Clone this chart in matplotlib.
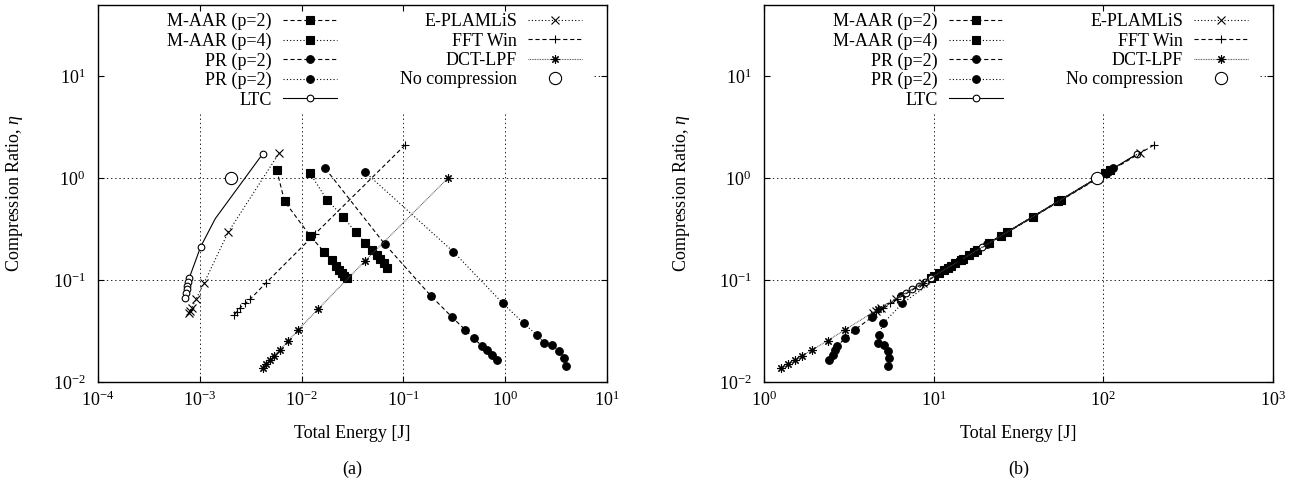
import matplotlib
matplotlib.use("Agg")
import matplotlib.pyplot as plt
from matplotlib.ticker import LogLocator, NullLocator, LogFormatterSciNotation

# compression ratio values (same for both panels)
eta_maar2 = [1.2, 0.59, 0.272, 0.189, 0.157, 0.138, 0.125, 0.116, 0.109, 0.104]
eta_maar4 = [1.11, 0.61, 0.418, 0.294, 0.232, 0.197, 0.175, 0.161, 0.146, 0.132]
eta_pr_a = [1.24, 0.224, 0.070, 0.0436, 0.0326, 0.0268, 0.0227, 0.0206, 0.0184, 0.0166]
eta_pr_b = [1.15, 0.189, 0.059, 0.0376, 0.0289, 0.0243, 0.0229, 0.0203, 0.0171, 0.0145]
eta_ltc = [1.72, 0.40, 0.212, 0.105, 0.096, 0.088, 0.081, 0.074, 0.067]
eta_eplam = [1.77, 0.294, 0.093, 0.065, 0.053, 0.050, 0.048]
eta_fft = [2.1, 0.28, 0.093, 0.065, 0.0589, 0.0536, 0.049, 0.0454]
eta_dct = [0.99, 0.153, 0.0516, 0.0324, 0.0254, 0.0206, 0.018, 0.0164, 0.015, 0.0136]
eta_nocomp = [1.0]

# (a) total energy [J]
ea_maar2 = [0.0057, 0.0068, 0.0121, 0.0166, 0.0197, 0.0218, 0.0233, 0.0248, 0.0262, 0.0277]
ea_maar4 = [0.0121, 0.0178, 0.0255, 0.034, 0.042, 0.0495, 0.0553, 0.059, 0.0645, 0.0695]
ea_pr_a = [0.0171, 0.0658, 0.186, 0.298, 0.403, 0.49, 0.588, 0.664, 0.74, 0.84]
ea_pr_b = [0.0417, 0.31, 0.948, 1.52, 2.05, 2.40, 2.91, 3.38, 3.79, 3.94]
ea_ltc = [0.00414, 0.00142, 0.00102, 0.000789, 0.000772, 0.000755, 0.000742, 0.000731, 0.00072]
ea_eplam = [0.00605, 0.0019, 0.0011, 0.00092, 0.00083, 0.0008, 0.00079]
ea_fft = [0.1035, 0.0134, 0.00444, 0.00313, 0.0028, 0.0025, 0.00232, 0.00218]
ea_dct = [0.272, 0.0417, 0.01445, 0.00925, 0.00742, 0.0061, 0.0053, 0.0049, 0.00448, 0.00415]
ea_nocomp = [0.00202]

# (b) total energy [J]
eb_maar2 = [110, 54, 25, 17.4, 14.4, 12.7, 11.5, 10.7, 10.0, 9.6]
eb_maar4 = [102, 56, 38.5, 27, 21.3, 18.1, 16.1, 14.8, 13.4, 12.1]
eb_pr_a = [114, 20.6, 6.4, 4.36, 3.44, 3.01, 2.71, 2.63, 2.54, 2.42]
eb_pr_b = [106, 17.4, 6.54, 5.04, 4.77, 4.70, 5.10, 5.41, 5.45, 5.41]
eb_ltc = [158, 37, 19.3, 9.7, 8.9, 8.2, 7.5, 6.9, 6.3]
eb_eplam = [164, 27, 8.6, 6.0, 4.9, 4.6, 4.4]
eb_fft = [198, 26, 8.7, 6.1, 5.5, 5.0, 4.6, 4.3]
eb_dct = [91, 14.1, 4.7, 2.99, 2.37, 1.92, 1.67, 1.52, 1.39, 1.26]
eb_nocomp = [92]

labels = ["M-AAR (p=2)", "M-AAR (p=4)", "PR (p=2)", "PR (p=2)", "LTC",
          "E-PLAMLiS", "FFT Win", "DCT-LPF", "No compression"]

plt.rcParams["font.family"] = "Liberation Serif"
plt.rcParams["mathtext.fontset"] = "custom"
plt.rcParams["mathtext.rm"] = "Liberation Serif"
plt.rcParams["mathtext.it"] = "Liberation Serif:italic"
plt.rcParams["font.size"] = 13
plt.rcParams["lines.scale_dashes"] = False

DASH = (0, (3, 2))
DOT = (0, (0.8, 1.6))
styles = [
    dict(ls=DASH, marker="s", ms=5.2, color="k", mfc="k"),
    dict(ls=DOT, marker="s", ms=5.2, color="k", mfc="k"),
    dict(ls=DASH, marker="o", ms=5.5, color="k", mfc="k"),
    dict(ls=DOT, marker="o", ms=5.5, color="k", mfc="k"),
    dict(ls="-", marker="o", ms=4.8, color="k", mfc="white"),
    dict(ls=DOT, marker="x", ms=5.5, color="k", mfc="k"),
    dict(ls=DASH, marker="+", ms=5.5, color="k", mfc="k"),
    dict(ls=(0, (0.6, 0.6)), marker=(8, 2, 0), ms=6, color="0.3", mec="k"),
    dict(ls="none", marker="o", ms=8.8, color="k", mfc="white"),
]

fig = plt.figure(figsize=(13, 4.84), dpi=100)
W, H = 1300, 484
ax_a = fig.add_axes([98 / W, (H - 382) / H, 509 / W, 377 / H])
ax_b = fig.add_axes([764 / W, (H - 382) / H, 509 / W, 377 / H])

panels = [
    (ax_a, [ea_maar2, ea_maar4, ea_pr_a, ea_pr_b, ea_ltc, ea_eplam, ea_fft, ea_dct, ea_nocomp],
     (1e-4, 10), 582, "(a)"),
    (ax_b, [eb_maar2, eb_maar4, eb_pr_a, eb_pr_b, eb_ltc, eb_eplam, eb_fft, eb_dct, eb_nocomp],
     (1, 1000), 1248, "(b)"),
]
etas = [eta_maar2, eta_maar4, eta_pr_a, eta_pr_b, eta_ltc, eta_eplam, eta_fft, eta_dct, eta_nocomp]

for ax, xs, xlim, leg_right, cap in panels:
    ax.set_xscale("log")
    ax.set_yscale("log")
    ax.set_xlim(*xlim)
    ax.set_ylim(1e-2, 10 ** (1 + 71 / 102))
    handles = []
    for x, y, st, lab in zip(xs, etas, styles, labels):
        kw = dict(st)
        if lab == "LTC":
            kw["markevery"] = [0] + list(range(2, len(x)))
        h, = ax.plot(x, y, lw=0.8, mew=0.8, label=lab, **kw)
        handles.append(h)

    for s in ax.spines.values():
        s.set_linewidth(1.0)
    ax.xaxis.set_major_locator(LogLocator(base=10, numticks=20))
    ax.yaxis.set_major_locator(LogLocator(base=10, numticks=20))
    ax.xaxis.set_minor_locator(NullLocator())
    ax.yaxis.set_minor_locator(NullLocator())
    ax.xaxis.set_major_formatter(LogFormatterSciNotation())
    ax.yaxis.set_major_formatter(LogFormatterSciNotation())
    ax.tick_params(direction="in", top=True, right=True, length=4.5, width=0.8)
    ax.tick_params(axis="x", pad=6)
    ax.tick_params(axis="y", pad=9)

    # grid, kept clear of the key area at the top
    key_frac = (382 - 112) / 377
    for v in ax.get_xticks():
        if xlim[0] < v < xlim[1]:
            ax.axvline(v, ymax=key_frac, color="k", lw=0.6, ls=(0, (1, 2)), zorder=0.5)
    for v in ax.get_yticks():
        if 1e-2 < v < 5:
            ax.axhline(v, color="k", lw=0.6, ls=(0, (1, 2)), zorder=0.5)
        elif 5 < v < 40:
            ax.axhline(v, xmin=(leg_right + 12 - ax.get_position().x0 * W) / 509,
                       color="k", lw=0.6, ls=(0, (1, 2)), zorder=0.5)

    ax.legend(handles, labels, ncols=2, loc="upper right",
              bbox_to_anchor=(leg_right / W, 1 - 13 / H), bbox_transform=fig.transFigure,
              frameon=False, markerfirst=False, numpoints=1, handlelength=3.0,
              handletextpad=0.6, labelspacing=0.13, columnspacing=3.5,
              borderpad=0, borderaxespad=0, fontsize=13)

    ax.set_xlabel("Total Energy [J]")
    ax.xaxis.label.set_va("center")
    ax.xaxis.set_label_coords(0.5, (382 - 433) / 377)
    ax.set_ylabel(r"Compression Ratio, $\eta$")
    ax.yaxis.label.set_va("center")
    ax.yaxis.set_label_coords(-83 / 509, 0.5)
    ax.text(0.5, (382 - 469) / 377, cap, transform=ax.transAxes,
            ha="center", va="center", fontsize=13)

fig.savefig("out.png", dpi=100)
